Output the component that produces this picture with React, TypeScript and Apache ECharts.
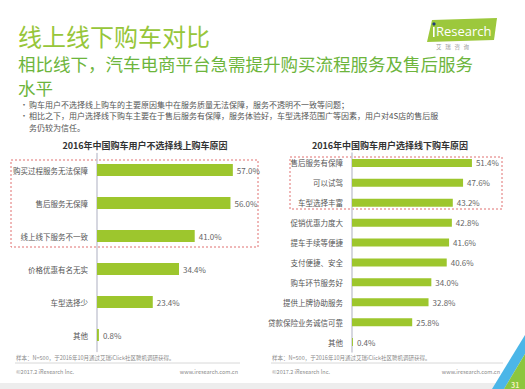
import React, { useEffect, useRef } from "react";
import * as echarts from "echarts";

const leftTitle = "2016年中国购车用户不选择线上购车原因";
const leftCategories = ["购买过程服务无法保障", "售后服务无保障", "线上线下服务不一致", "价格优惠有名无实", "车型选择少", "其他"];
const leftValues = [57.0, 56.0, 41.0, 34.4, 23.4, 0.8];

const rightTitle = "2016年中国购车用户选择线下购车原因";
const rightCategories = ["售后服务有保障", "可以试驾", "车型选择丰富", "促销优惠力度大", "提车手续等便捷", "支付便捷、安全", "购车环节服务好", "提供上牌协助服务", "贷款保险业务诚信可靠", "其他"];
const rightValues = [51.4, 47.6, 43.2, 42.8, 41.6, 40.6, 34.0, 32.8, 25.8, 0.4];

const mainTitle = "线上线下购车对比";
const subTitleLines = ["相比线下，汽车电商平台急需提升购买流程服务及售后服务", "水平"];
const bulletLines = [
  "购车用户不选择线上购车的主要原因集中在服务质量无法保障，服务不透明不一致等问题；",
  "相比之下，用户选择线下购车主要在于售后服务有保障，服务体验好，车型选择范围广等因素，用户对4S店的售后服",
  "务仍较为信任。",
];
const sourceNote = "样本：N=500，于2016年10月通过艾瑞iClick社区聘机调研获得。";
const copyright = "©2017.2 iResearch Inc.";
const website = "www.iresearch.com.cn";

const FONT = "'Noto Sans CJK SC', 'Noto Sans', sans-serif";
const BAR = "#9dc62d";

export default function App() {
  const ref = useRef<HTMLDivElement>(null);
  useEffect(() => {
    if (!ref.current) return;
    const chart = echarts.init(ref.current, null, { renderer: "svg" });
    const txt = (x: number, y: number, text: string, size: number, fill: string, extra: any = {}) => ({
      type: "text",
      x,
      y,
      style: { text, fontSize: size, lineHeight: size, fill, fontFamily: FONT, textVerticalAlign: "middle", ...extra },
    });
    const valueLabel = {
      show: true,
      position: "right",
      distance: 4,
      fontSize: 8,
      color: "#666",
      fontFamily: FONT,
      formatter: (p: any) => Number(p.value).toFixed(1) + "%",
    };
    const catAxis = (idx: number, cats: string[]) => ({
      type: "category",
      gridIndex: idx,
      data: cats,
      inverse: true,
      axisLine: { show: true, lineStyle: { color: "#c9cad6", width: 1.5 } },
      axisTick: { show: false },
      axisLabel: { fontSize: 7.5, color: "#555", fontFamily: FONT, margin: 9 },
    });
    const valAxis = (idx: number) => ({
      type: "value",
      gridIndex: idx,
      min: 0,
      max: 60,
      show: false,
      splitLine: { show: false },
    });
    chart.setOption({
      animation: false,
      backgroundColor: "#ffffff",
      grid: [
        { left: 97, top: 153.5, width: 143, height: 198 },
        { left: 352, top: 153, width: 140, height: 199 },
      ],
      xAxis: [valAxis(0), valAxis(1)],
      yAxis: [catAxis(0, leftCategories), catAxis(1, rightCategories)],
      series: [
        { type: "bar", xAxisIndex: 0, yAxisIndex: 0, data: leftValues, barWidth: 12, itemStyle: { color: BAR }, label: valueLabel },
        { type: "bar", xAxisIndex: 1, yAxisIndex: 1, data: rightValues, barWidth: 8, itemStyle: { color: BAR }, label: valueLabel },
      ],
      graphic: [
        txt(18, 35.5, mainTitle, 24, "#97c63a"),
        txt(18, 63.5, subTitleLines[0], 17.5, "#6db53c"),
        txt(18, 87, subTitleLines[1], 17.5, "#6db53c"),
        txt(20, 104, "•", 8, "#666"),
        txt(29, 104, bulletLines[0], 8, "#555"),
        txt(20, 115.5, "•", 8, "#666"),
        txt(29, 115.5, bulletLines[1], 8, "#555"),
        txt(29, 127, bulletLines[2], 8, "#555"),
        {
          type: "polygon",
          shape: { points: [[427, 42], [432, 20], [497, 18], [494, 40]] },
          style: { fill: "#9cc83c" },
        },
        { type: "circle", shape: { cx: 434, cy: 24, r: 1.6 }, style: { fill: "#1f3b7a" } },
        txt(436, 31, "Research", 13, "#ffffff", { fontFamily: "'Open Sans', sans-serif" }),
        { type: "rect", shape: { x: 433, y: 27, width: 1.6, height: 10 }, style: { fill: "#ffffff" } },
        txt(436, 47, "艾   瑞   咨   询", 5.5, "#999"),
        txt(145, 145, leftTitle, 9, "#333", { fontWeight: "bold", textAlign: "center" }),
        txt(390, 145, rightTitle, 9, "#333", { fontWeight: "bold", textAlign: "center" }),
        {
          type: "rect",
          shape: { x: 11, y: 160, width: 247, height: 87 },
          style: { fill: "none", stroke: "#e07070", lineWidth: 1, lineDash: [2, 2] },
        },
        {
          type: "rect",
          shape: { x: 290, y: 157, width: 212, height: 52 },
          style: { fill: "none", stroke: "#e07070", lineWidth: 1, lineDash: [2, 2] },
        },
        txt(16, 358, sourceNote, 5.5, "#8a8a8a"),
        { type: "line", shape: { x1: 15, y1: 363, x2: 240, y2: 363 }, style: { stroke: "#d8d8d8", lineWidth: 1 } },
        txt(16, 372, copyright, 5.5, "#8a8a8a"),
        txt(238, 372, website, 5.5, "#8a8a8a", { textAlign: "right" }),
        txt(272, 358, sourceNote, 5.5, "#8a8a8a"),
        { type: "line", shape: { x1: 271, y1: 363, x2: 503, y2: 363 }, style: { stroke: "#d8d8d8", lineWidth: 1 } },
        txt(272, 372, copyright, 5.5, "#8a8a8a"),
        txt(500, 372, website, 5.5, "#8a8a8a", { textAlign: "right" }),
        { type: "rect", shape: { x: 0, y: 383, width: 525, height: 6 }, style: { fill: "#ededed" } },
        {
          type: "polygon",
          shape: { points: [[492, 389], [525, 335], [525, 354], [504, 389]] },
          style: { fill: "#4bb6e8" },
        },
        {
          type: "polygon",
          shape: { points: [[504, 389], [525, 354], [525, 389]] },
          style: { fill: "#8cc63f" },
        },
        txt(511, 385, "31", 7, "#f4f0c0", { fontWeight: "bold" }),
      ],
    });
    return () => chart.dispose();
  }, []);
  return <div ref={ref} style={{ position: "absolute", left: 0, top: 0, width: 525, height: 389 }} />;
}
